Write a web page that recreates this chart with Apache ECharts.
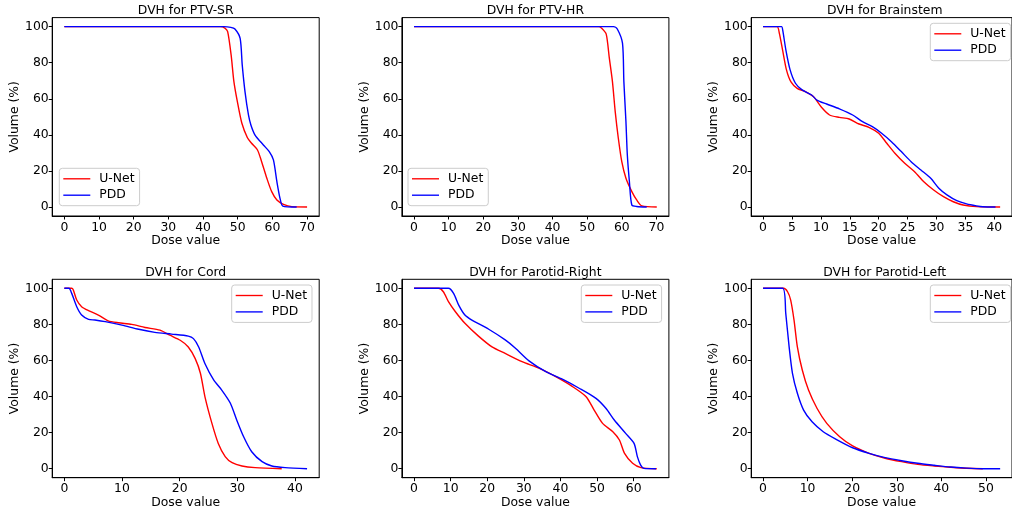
<!DOCTYPE html>
<html>
<head>
<meta charset="utf-8">
<script src="https://cdn.jsdelivr.net/npm/echarts@6/dist/echarts.min.js"></script>
<style>html,body{margin:0;padding:0;background:#fff}#c{width:1012px;height:512px}</style>
</head>
<body>
<div id="c"></div>
<script>
// ---- Data ----
const seriesNames = ['U-Net', 'PDD'];
const panelTitles = ['DVH for PTV-SR', 'DVH for PTV-HR', 'DVH for Brainstem', 'DVH for Cord', 'DVH for Parotid-Right', 'DVH for Parotid-Left'];
const xTicks = [
  [0, 10, 20, 30, 40, 50, 60, 70],
  [0, 10, 20, 30, 40, 50, 60, 70],
  [0, 5, 10, 15, 20, 25, 30, 35, 40],
  [0, 10, 20, 30, 40],
  [0, 10, 20, 30, 40, 50, 60],
  [0, 10, 20, 30, 40, 50]
];
const yTicks = [0, 20, 40, 60, 80, 100];

// PTV-SR
const ptvSrUnetDose = [0, 45, 46.3, 47.1, 48.1, 48.9, 49.9, 51.2, 52.8, 54.0, 55.7, 56.9, 58.4, 59.8, 61.3, 63.2, 65.6, 70.0];
const ptvSrUnetVol  = [100, 100, 99.2, 97.2, 84.3, 69.5, 58.4, 46.4, 38.4, 35.3, 31.6, 25.1, 15.9, 8.5, 3.9, 1.5, 0.2, 0];
const ptvSrPddDose  = [0, 46, 48, 49.2, 50.7, 51.3, 52.1, 53.1, 53.8, 55.0, 57.4, 59.1, 60.3, 61.3, 62.2, 63.0, 67.0];
const ptvSrPddVol   = [100, 100, 99.6, 98.7, 93.5, 78.8, 64, 51, 45.5, 39.9, 34.4, 30.7, 26.1, 14, 4.8, 0.5, 0];
// PTV-HR
const ptvHrUnetDose = [0, 53.3, 54.2, 55.5, 56.4, 57.3, 58.1, 59.0, 60.0, 61.2, 62.9, 64.3, 65.8, 70.1];
const ptvHrUnetVol  = [100, 100, 99.1, 95.8, 82.5, 69.5, 52.9, 38.1, 25.1, 15.9, 8.5, 3.9, 0.6, 0];
const ptvHrPddDose  = [0, 57.6, 58.7, 60.2, 60.6, 61.2, 61.6, 62.2, 62.9, 64.3, 67.2];
const ptvHrPddVol   = [100, 100, 98.7, 90.8, 69.5, 47.3, 28.8, 14, 1.1, 0.3, 0];
// Brainstem
const brainUnetDose = [0, 2.43, 2.82, 3.38, 4.05, 4.8, 5.9, 7.3, 8.7, 10.1, 11.5, 13.2, 14.9, 16.6, 18.3, 20.0, 21.4, 22.8, 24.5, 26.2, 27.8, 29.5, 31.2, 32.9, 34.6, 36.9, 41.0];
const brainUnetVol  = [100, 100, 96.3, 87, 76, 69.5, 65.8, 64, 61.2, 55.3, 51, 49.7, 48.8, 46, 44.2, 40.9, 35.3, 29.8, 24.2, 19.6, 14, 9.4, 5.7, 2.9, 1.1, 0.2, 0];
const brainPddDose  = [0, 3.2, 3.4, 3.95, 4.68, 5.6, 6.75, 8.4, 9.3, 11.0, 13.2, 15.5, 17.2, 18.9, 20.5, 22.2, 23.9, 25.6, 27.3, 29.0, 30.4, 31.8, 33.5, 35.2, 36.9, 38.0, 40.2];
const brainPddVol   = [100, 100, 98, 87, 76, 68.6, 64.9, 62.1, 59.3, 57.1, 54.4, 51, 47.3, 44.5, 40.9, 36.2, 30.7, 25.1, 20.5, 15.9, 10.4, 6.7, 3.5, 1.7, 0.6, 0.1, 0];
// Cord
const cordUnetDose = [0, 1.28, 1.56, 2.15, 3.0, 4.2, 5.9, 7.6, 9.4, 11.7, 14.0, 16.6, 18.3, 20.1, 21.5, 22.7, 23.6, 24.4, 25.6, 26.7, 27.9, 29.1, 30.8, 33.1, 37.7];
const cordUnetVol  = [100, 100, 99.1, 93.5, 89.8, 87.6, 85.2, 82, 80.9, 80, 78.3, 76.8, 74, 71.2, 67.5, 61, 52.9, 39.7, 25.1, 14, 6.7, 3.3, 1.5, 0.6, 0];
const cordPddDose  = [0, 0.8, 1.28, 2.15, 3.0, 4.2, 5.3, 7.1, 10.0, 12.9, 15.7, 18.6, 21.5, 22.4, 23.3, 24.4, 25.9, 27.3, 28.8, 29.9, 31.1, 32.5, 34.3, 36.0, 38.3, 42.1];
const cordPddVol   = [100, 100, 97.2, 89.8, 85.2, 82.8, 82.4, 81.5, 79.6, 77.3, 75.6, 74.6, 73.5, 72.1, 67.5, 58.2, 49.2, 43.6, 36.3, 27, 17.7, 9.4, 3.9, 1.5, 0.6, 0];
// Parotid-Right
const parRUnetDose = [0, 6.7, 8.0, 9.4, 11.3, 13.9, 17.6, 21.3, 24.9, 29.5, 34.1, 38.7, 43.3, 47.0, 49.2, 51.5, 54.3, 56.1, 57.5, 59.7, 62.0, 66.3];
const parRUnetVol  = [100, 100, 98.1, 92.6, 87, 80.6, 73.5, 67.5, 63.9, 59.3, 55.7, 51, 45.5, 39.9, 32.5, 25.1, 20.5, 15.9, 8.5, 3, 0.6, 0];
const parRPddDose  = [0, 9.4, 10.8, 12.2, 13.9, 15.8, 20.4, 24.9, 27.7, 31.4, 36.0, 40.5, 45.1, 49.7, 52.4, 54.7, 57.8, 60.1, 61.0, 61.9, 62.8, 66.1];
const parRPddVol   = [100, 100, 97.2, 90.7, 85.2, 82.4, 77.3, 71.4, 66.8, 59.8, 53.8, 49.6, 44.6, 39, 33.5, 27, 19.6, 14, 6.7, 2, 0.2, 0];
// Parotid-Left
const parLUnetDose = [0, 4.6, 5.5, 6.2, 6.95, 7.7, 8.8, 10.2, 12.1, 14.3, 17.2, 20.1, 23.8, 27.4, 31.1, 34.7, 38.4, 42.0, 45.7, 49.3];
const parLUnetVol  = [100, 100, 98.1, 93.5, 82.4, 67.5, 54.7, 43.6, 33.5, 25.1, 17.7, 12.6, 8.5, 5.8, 3.9, 2.4, 1.5, 0.8, 0.2, 0];
const parLPddDose  = [0, 4.4, 5.1, 5.85, 6.6, 7.7, 9.1, 11.0, 13.5, 16.4, 20.1, 23.8, 27.4, 31.1, 34.7, 38.4, 42.0, 45.7, 49.3, 53.2];
const parLPddVol   = [100, 100, 86, 67.5, 52.9, 41.8, 32.5, 26, 20.5, 16.3, 11.6, 8.5, 6.1, 4.4, 3, 1.9, 0.9, 0.3, 0, 0];

const panelData = [
  [[ptvSrUnetDose, ptvSrUnetVol], [ptvSrPddDose, ptvSrPddVol]],
  [[ptvHrUnetDose, ptvHrUnetVol], [ptvHrPddDose, ptvHrPddVol]],
  [[brainUnetDose, brainUnetVol], [brainPddDose, brainPddVol]],
  [[cordUnetDose, cordUnetVol], [cordPddDose, cordPddVol]],
  [[parRUnetDose, parRUnetVol], [parRPddDose, parRPddVol]],
  [[parLUnetDose, parLUnetVol], [parLPddDose, parLPddVol]]
];

// ---- Layout ----
const FONT = 'DejaVu Sans';
const FS = 12.4;
const gridLefts = [52.2, 401.9, 751.2];
const gridTops = [17.6, 279.3];
const GW = 267, GH = 198.4;
const legendPos = [
  [59.3, 168.3], [408, 168.3], [930.3, 23.3],
  [231.7, 285], [581.3, 285], [930.3, 285]
];
const colors = ['#ff0000', '#0000ff'];

const grids = [], xAxes = [], yAxes = [], series = [], titles = [], legends = [];
for (let i = 0; i < 6; i++) {
  const col = i % 3, row = Math.floor(i / 3);
  const left = gridLefts[col], top = gridTops[row];
  grids.push({left: left, top: top, width: GW, height: GH, show: true, borderColor: '#000', borderWidth: 1, backgroundColor: 'transparent', containLabel: false});
  let xmax = 0;
  panelData[i].forEach(s => { xmax = Math.max(xmax, Math.max.apply(null, s[0])); });
  xAxes.push({
    type: 'value', gridIndex: i, min: -0.05 * xmax, max: 1.05 * xmax, position: 'bottom',
    name: 'Dose value', nameLocation: 'middle', nameGap: 19,
    nameTextStyle: {fontFamily: FONT, fontSize: FS, color: '#000'},
    axisLine: {show: true, onZero: false, lineStyle: {color: '#000', width: 1}},
    splitLine: {show: false},
    axisTick: {show: true, length: 3.5, inside: false, customValues: xTicks[i], lineStyle: {color: '#000', width: 1}},
    axisLabel: {show: true, customValues: xTicks[i], margin: 5.5, fontFamily: FONT, fontSize: FS, color: '#000'}
  });
  yAxes.push({
    type: 'value', gridIndex: i, min: -5, max: 105, position: 'left',
    name: 'Volume (%)', nameLocation: 'middle', nameGap: 29,
    nameTextStyle: {fontFamily: FONT, fontSize: FS, color: '#000'},
    axisLine: {show: true, onZero: false, lineStyle: {color: '#000', width: 1}},
    splitLine: {show: false},
    axisTick: {show: true, length: 3.5, inside: false, customValues: yTicks, lineStyle: {color: '#000', width: 1}},
    axisLabel: {show: true, customValues: yTicks, margin: 3.5, fontFamily: FONT, fontSize: FS, color: '#000'}
  });
  titles.push({
    text: panelTitles[i], left: left + GW / 2, top: top - 12.6, textAlign: 'center', padding: 0,
    textStyle: {fontFamily: FONT, fontSize: FS, fontWeight: 'normal', color: '#000'}
  });
  legends.push({
    data: seriesNames, orient: 'vertical', left: legendPos[i][0], top: legendPos[i][1],
    padding: [4.5, 5, 4.5, 4], itemWidth: 27, itemHeight: 14, itemGap: 4.4,
    icon: 'path://M0 0H30V1.5H0Z', symbolKeepAspect: true,
    backgroundColor: 'rgba(255,255,255,0.8)', borderColor: '#cccccc', borderWidth: 1, borderRadius: 3,
    textStyle: {fontFamily: FONT, fontSize: FS, color: '#000', padding: [0, 0, 0, 4]},
    selectedMode: false
  });
  panelData[i].forEach((s, k) => {
    series.push({
      type: 'line', name: seriesNames[k], xAxisIndex: i, yAxisIndex: i,
      data: s[0].map((d, j) => [d, s[1][j]]),
      showSymbol: false, symbol: 'none', smooth: 0.25, clip: true,
      lineStyle: {color: colors[k], width: 1.4},
      itemStyle: {color: colors[k]},
      z: 2 + k
    });
  });
}

const chart = echarts.init(document.getElementById('c'), null, {renderer: 'canvas'});
chart.setOption({
  animation: false,
  backgroundColor: '#fff',
  title: titles, grid: grids, xAxis: xAxes, yAxis: yAxes, legend: legends, series: series
});
</script>
</body>
</html>
